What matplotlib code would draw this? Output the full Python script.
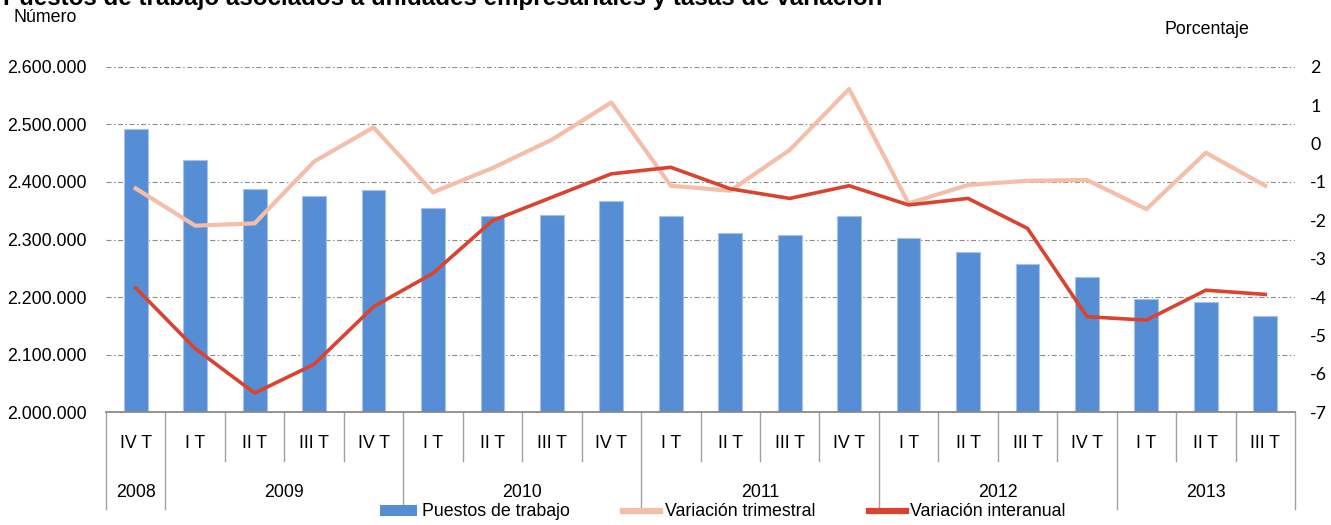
import numpy as np
import matplotlib
matplotlib.use('Agg')
import matplotlib.pyplot as plt
import matplotlib.transforms as mtransforms
from matplotlib.patches import Patch
from matplotlib.lines import Line2D

# ---------------- data ----------------
quarters = ['IV T', 'I T', 'II T', 'III T', 'IV T', 'I T', 'II T', 'III T', 'IV T',
            'I T', 'II T', 'III T', 'IV T', 'I T', 'II T', 'III T', 'IV T',
            'I T', 'II T', 'III T']
years = ['2008', '2009', '2010', '2011', '2012', '2013']
year_counts = [1, 4, 4, 4, 4, 3]
puestos = [2492000, 2438000, 2388000, 2376000, 2386000, 2355000, 2340000, 2342000,
           2367000, 2341000, 2312000, 2308000, 2341000, 2303000, 2279000, 2257000,
           2235000, 2197000, 2192000, 2167000]
trimestral = [-1.17, -2.14, -2.08, -0.47, 0.42, -1.27, -0.64, 0.10, 1.07, -1.10,
              -1.23, -0.17, 1.42, -1.56, -1.08, -0.97, -0.95, -1.71, -0.24, -1.10]
interanual = [-3.76, -5.34, -6.50, -5.75, -4.25, -3.38, -2.01, -1.40, -0.79, -0.62,
              -1.18, -1.43, -1.10, -1.60, -1.43, -2.21, -4.51, -4.60, -3.82, -3.93]
left_ticks = [2000000, 2100000, 2200000, 2300000, 2400000, 2500000, 2600000]
right_ticks = [-7, -6, -5, -4, -3, -2, -1, 0, 1, 2]
title = 'Puestos de trabajo asociados a unidades empresariales y tasas de variación'

# ---------------- style ----------------
plt.rcParams['font.family'] = ['Liberation Sans', 'DejaVu Sans']
plt.rcParams['lines.scale_dashes'] = False
FS = 12.8
BAR_C = '#558ED5'
TRI_C = '#F4BEA8'
INT_C = '#D9432F'
SEP_C = '#A0A0A0'

W, H = 1331, 525
fig = plt.figure(figsize=(W / 100, H / 100), dpi=100)
ax_l, ax_r, ax_t, ax_b = 106, 1295, 66.7, 412.3
ax = fig.add_axes([ax_l / W, 1 - ax_b / H, (ax_r - ax_l) / W, (ax_b - ax_t) / H])
ah = ax_b - ax_t

x = np.arange(len(quarters))
ax.bar(x, puestos, width=0.4, color=BAR_C, edgecolor='#A7C1EA', linewidth=0.8, zorder=2)
ax.set_xlim(-0.5, len(quarters) - 0.5)
ax.set_ylim(left_ticks[0], left_ticks[-1])
ax.set_yticks(left_ticks)
ax.set_yticklabels([f'{v:,.0f}'.replace(',', '.') for v in left_ticks], fontsize=FS)
ax.tick_params(axis='y', length=0, pad=14)
ax.set_xticks([])
ax.grid(axis='y', color='#8C8C8C', linestyle=(0, (3.6, 1.8, 1.1, 1.8)), linewidth=0.8)
ax.set_axisbelow(True)
for s in ['left', 'right', 'top']:
    ax.spines[s].set_visible(False)
ax.spines['bottom'].set_color('#8A8A8A')
ax.spines['bottom'].set_linewidth(1.3)
ax.spines['bottom'].set_zorder(5)

ax2 = ax.twinx()
ax2.plot(x, trimestral, color=TRI_C, linewidth=3.0, zorder=3)
ax2.plot(x, interanual, color=INT_C, linewidth=2.6, zorder=4)
ax2.set_ylim(right_ticks[0], right_ticks[-1])
ax2.set_yticks(right_ticks)
ax2.set_yticklabels([str(v) for v in right_ticks], fontsize=12.8, family=['Lato', 'DejaVu Sans'])
ax2.tick_params(axis='y', length=0, pad=11)
for s in ['left', 'right', 'top', 'bottom']:
    ax2.spines[s].set_visible(False)

# ---------------- category axis (two levels) ----------------
trans = mtransforms.blended_transform_factory(ax.transData, ax.transAxes)
y_q_line = (ax_b - 461) / ah
y_y_line = (ax_b - 509) / ah
y_q_text = (ax_b - 444) / ah
y_y_text = (ax_b - 492.7) / ah

bounds = np.concatenate([[0], np.cumsum(year_counts)])
year_bounds = set((bounds - 0.5).tolist())
for i in range(len(quarters) + 1):
    b = i - 0.5
    yb = y_y_line if b in year_bounds else y_q_line
    ax.plot([b, b], [0, yb], transform=trans, color=SEP_C, linewidth=1.0,
            clip_on=False, zorder=1)
for xi, q in zip(x, quarters):
    ax.text(xi, y_q_text, q, transform=trans, ha='center', va='center', fontsize=FS)
for k, yr in enumerate(years):
    cx = (bounds[k] + bounds[k + 1] - 1) / 2
    ax.text(cx, y_y_text, yr, transform=trans, ha='center', va='center', fontsize=FS)

# ---------------- texts ----------------
fig.text(3 / W, 1 - 4.5 / H, title, fontsize=17.4, fontweight='bold', ha='left', va='baseline')
fig.text(13 / W, 1 - 17 / H, 'Número', fontsize=FS, ha='left', va='center')
fig.text(1165 / W, 1 - 30 / H, 'Porcentaje', fontsize=FS, ha='left', va='center')

# ---------------- legend ----------------
handles = [Patch(facecolor=BAR_C, edgecolor='none'),
           Line2D([0], [0], color=TRI_C, linewidth=4.5),
           Line2D([0], [0], color=INT_C, linewidth=4.5)]
labels = ['Puestos de trabajo', 'Variación trimestral', 'Variación interanual']
fig.legend(handles, labels, loc='center', bbox_to_anchor=(723 / W, 1 - 512 / H),
           ncol=3, frameon=False, fontsize=FS, handlelength=2.1, handleheight=0.55,
           handletextpad=0.25, columnspacing=3.0, borderpad=0, borderaxespad=0)

fig.savefig('out.png', dpi=100)
